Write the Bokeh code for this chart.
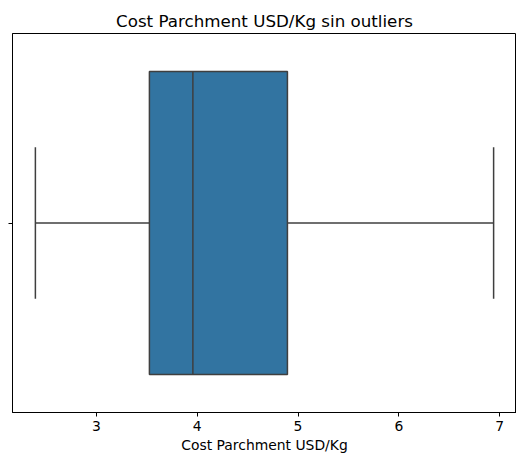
from bokeh.plotting import figure
from bokeh.models import Range1d, FixedTicker
from bokeh.embed import file_html
from bokeh.resources import INLINE

# Box-plot summary of parchment cost (USD/Kg), outliers removed
whisker_low = [2.395]
q1 = [3.526]
median = [3.957]
q3 = [4.895]
whisker_high = [6.94]
x_ticks = [3, 4, 5, 6, 7]

FONT = "DejaVu Sans"
BOX_FILL = "#3274a1"
LINE = "#3f3f3f"

p = figure(
    width=516, height=458,
    output_backend="svg", toolbar_location=None,
    x_range=Range1d(2.168, 7.167), y_range=Range1d(0.5, -0.5),
    min_border_left=12, min_border_right=0,
    min_border_top=33, min_border_bottom=46,
    title="Cost Parchment USD/Kg sin outliers",
)
p.background_fill_color = "white"
p.border_fill_color = "white"
p.outline_line_color = "black"
p.outline_line_width = 1
p.xgrid.visible = False
p.ygrid.visible = False

p.title.align = "center"
p.title.text_font = FONT
p.title.text_font_size = "16.7px"
p.title.text_font_style = "normal"
p.title.text_color = "black"
p.title.standoff = 5

y0 = [0]
# whiskers
p.segment(x0=whisker_low, y0=y0, x1=q1, y1=y0, line_color=LINE, line_width=1.5)
p.segment(x0=q3, y0=y0, x1=whisker_high, y1=y0, line_color=LINE, line_width=1.5)
# caps
p.segment(x0=whisker_low, y0=[-0.2], x1=whisker_low, y1=[0.2], line_color=LINE, line_width=1.5)
p.segment(x0=whisker_high, y0=[-0.2], x1=whisker_high, y1=[0.2], line_color=LINE, line_width=1.5)
# box
p.hbar(y=y0, left=q1, right=q3, height=0.8, fill_color=BOX_FILL,
       line_color=LINE, line_width=1.5)
# median
p.segment(x0=median, y0=[-0.4], x1=median, y1=[0.4], line_color=LINE, line_width=1.5)

xa = p.xaxis[0]
xa.ticker = FixedTicker(ticks=x_ticks)
xa.axis_label = "Cost Parchment USD/Kg"
xa.axis_label_text_font = FONT
xa.axis_label_text_font_size = "13.9px"
xa.axis_label_text_font_style = "normal"
xa.axis_label_text_color = "black"
xa.axis_label_standoff = 3
xa.major_label_text_font = FONT
xa.major_label_text_font_size = "13.9px"
xa.major_label_text_color = "black"
xa.major_label_standoff = 4
xa.major_tick_in = 0
xa.major_tick_out = 4
xa.minor_tick_in = 0
xa.minor_tick_out = 0
xa.axis_line_color = "black"

ya = p.yaxis[0]
ya.ticker = FixedTicker(ticks=[0])
ya.major_label_overrides = {0: ""}
ya.major_label_text_font_size = "1px"
ya.major_label_standoff = 0
ya.major_tick_in = 0
ya.major_tick_out = 4
ya.minor_tick_in = 0
ya.minor_tick_out = 0
ya.axis_line_color = "black"

open("out.html", "w").write(file_html(p, INLINE))
